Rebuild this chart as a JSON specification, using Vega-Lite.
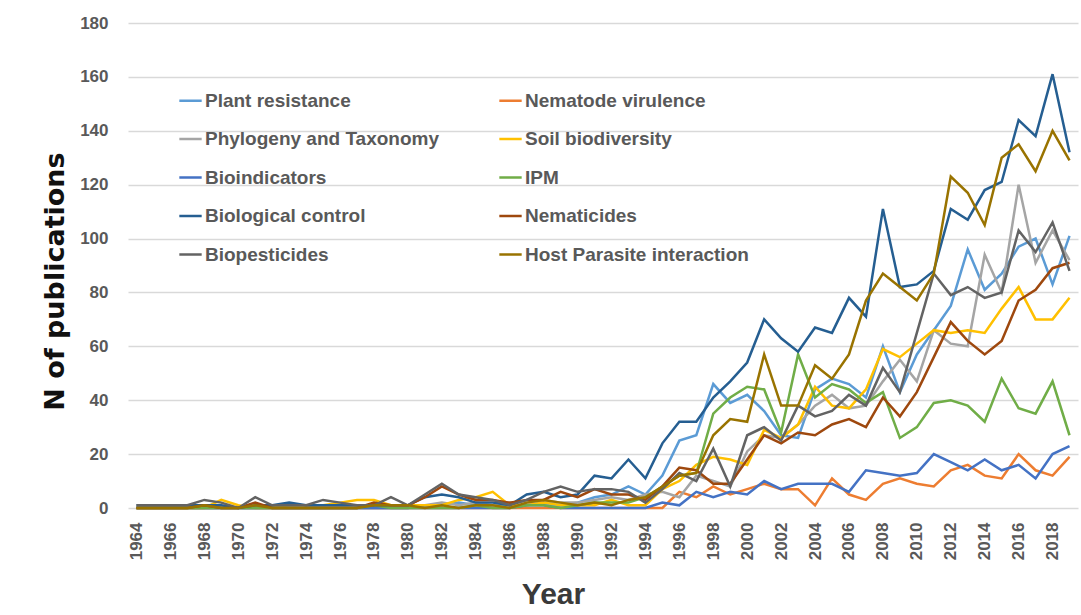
{
  "$schema": "https://vega.github.io/schema/vega-lite/v6.json",
  "autosize": "none",
  "width": 950,
  "height": 485,
  "padding": {"left": 128, "top": 23, "right": 3, "bottom": 107},
  "background": "white",
  "config": {"view": {"stroke": null}},
  "data": {"values": [
    {"year":1964,"Plant resistance":0,"Nematode virulence":0,"Phylogeny and Taxonomy":0,"Soil biodiversity":0,"Bioindicators":0,"IPM":0,"Biological control":1,"Nematicides":0,"Biopesticides":1,"Host Parasite interaction":0},
    {"year":1965,"Plant resistance":0,"Nematode virulence":0,"Phylogeny and Taxonomy":0,"Soil biodiversity":0,"Bioindicators":0,"IPM":0,"Biological control":1,"Nematicides":0,"Biopesticides":1,"Host Parasite interaction":0},
    {"year":1966,"Plant resistance":0,"Nematode virulence":0,"Phylogeny and Taxonomy":0,"Soil biodiversity":0,"Bioindicators":0,"IPM":0,"Biological control":1,"Nematicides":0,"Biopesticides":1,"Host Parasite interaction":0},
    {"year":1967,"Plant resistance":0,"Nematode virulence":0,"Phylogeny and Taxonomy":0,"Soil biodiversity":0,"Bioindicators":0,"IPM":0,"Biological control":1,"Nematicides":0,"Biopesticides":1,"Host Parasite interaction":0},
    {"year":1968,"Plant resistance":0,"Nematode virulence":0,"Phylogeny and Taxonomy":0,"Soil biodiversity":0,"Bioindicators":0,"IPM":0,"Biological control":1,"Nematicides":1,"Biopesticides":3,"Host Parasite interaction":1},
    {"year":1969,"Plant resistance":0,"Nematode virulence":0,"Phylogeny and Taxonomy":0,"Soil biodiversity":3,"Bioindicators":0,"IPM":0,"Biological control":1,"Nematicides":0,"Biopesticides":2,"Host Parasite interaction":0},
    {"year":1970,"Plant resistance":0,"Nematode virulence":0,"Phylogeny and Taxonomy":0,"Soil biodiversity":1,"Bioindicators":0,"IPM":0,"Biological control":0,"Nematicides":0,"Biopesticides":0,"Host Parasite interaction":0},
    {"year":1971,"Plant resistance":0,"Nematode virulence":0,"Phylogeny and Taxonomy":0,"Soil biodiversity":0,"Bioindicators":0,"IPM":0,"Biological control":1,"Nematicides":2,"Biopesticides":4,"Host Parasite interaction":1},
    {"year":1972,"Plant resistance":0,"Nematode virulence":0,"Phylogeny and Taxonomy":0,"Soil biodiversity":0,"Bioindicators":0,"IPM":0,"Biological control":1,"Nematicides":0,"Biopesticides":1,"Host Parasite interaction":0},
    {"year":1973,"Plant resistance":0,"Nematode virulence":0,"Phylogeny and Taxonomy":0,"Soil biodiversity":1,"Bioindicators":0,"IPM":0,"Biological control":2,"Nematicides":0,"Biopesticides":1,"Host Parasite interaction":0},
    {"year":1974,"Plant resistance":0,"Nematode virulence":0,"Phylogeny and Taxonomy":0,"Soil biodiversity":1,"Bioindicators":0,"IPM":0,"Biological control":1,"Nematicides":0,"Biopesticides":1,"Host Parasite interaction":0},
    {"year":1975,"Plant resistance":0,"Nematode virulence":0,"Phylogeny and Taxonomy":0,"Soil biodiversity":1,"Bioindicators":0,"IPM":0,"Biological control":1,"Nematicides":0,"Biopesticides":3,"Host Parasite interaction":0},
    {"year":1976,"Plant resistance":0,"Nematode virulence":0,"Phylogeny and Taxonomy":0,"Soil biodiversity":2,"Bioindicators":0,"IPM":0,"Biological control":1,"Nematicides":0,"Biopesticides":2,"Host Parasite interaction":0},
    {"year":1977,"Plant resistance":0,"Nematode virulence":0,"Phylogeny and Taxonomy":0,"Soil biodiversity":3,"Bioindicators":0,"IPM":0,"Biological control":1,"Nematicides":0,"Biopesticides":1,"Host Parasite interaction":0},
    {"year":1978,"Plant resistance":0,"Nematode virulence":0,"Phylogeny and Taxonomy":0,"Soil biodiversity":3,"Bioindicators":0,"IPM":1,"Biological control":1,"Nematicides":2,"Biopesticides":1,"Host Parasite interaction":1},
    {"year":1979,"Plant resistance":0,"Nematode virulence":0,"Phylogeny and Taxonomy":0,"Soil biodiversity":1,"Bioindicators":0,"IPM":0,"Biological control":1,"Nematicides":1,"Biopesticides":4,"Host Parasite interaction":1},
    {"year":1980,"Plant resistance":0,"Nematode virulence":0,"Phylogeny and Taxonomy":0,"Soil biodiversity":1,"Bioindicators":0,"IPM":0,"Biological control":1,"Nematicides":1,"Biopesticides":1,"Host Parasite interaction":1},
    {"year":1981,"Plant resistance":1,"Nematode virulence":0,"Phylogeny and Taxonomy":1,"Soil biodiversity":1,"Bioindicators":0,"IPM":0,"Biological control":4,"Nematicides":4,"Biopesticides":5,"Host Parasite interaction":0},
    {"year":1982,"Plant resistance":1,"Nematode virulence":0,"Phylogeny and Taxonomy":2,"Soil biodiversity":1,"Bioindicators":0,"IPM":0,"Biological control":5,"Nematicides":8,"Biopesticides":9,"Host Parasite interaction":1},
    {"year":1983,"Plant resistance":2,"Nematode virulence":0,"Phylogeny and Taxonomy":1,"Soil biodiversity":3,"Bioindicators":0,"IPM":0,"Biological control":4,"Nematicides":5,"Biopesticides":5,"Host Parasite interaction":0},
    {"year":1984,"Plant resistance":1,"Nematode virulence":0,"Phylogeny and Taxonomy":2,"Soil biodiversity":4,"Bioindicators":0,"IPM":1,"Biological control":2,"Nematicides":3,"Biopesticides":4,"Host Parasite interaction":1},
    {"year":1985,"Plant resistance":1,"Nematode virulence":0,"Phylogeny and Taxonomy":1,"Soil biodiversity":6,"Bioindicators":0,"IPM":0,"Biological control":2,"Nematicides":3,"Biopesticides":3,"Host Parasite interaction":1},
    {"year":1986,"Plant resistance":1,"Nematode virulence":0,"Phylogeny and Taxonomy":2,"Soil biodiversity":1,"Bioindicators":0,"IPM":0,"Biological control":1,"Nematicides":2,"Biopesticides":1,"Host Parasite interaction":0},
    {"year":1987,"Plant resistance":1,"Nematode virulence":0,"Phylogeny and Taxonomy":2,"Soil biodiversity":1,"Bioindicators":1,"IPM":1,"Biological control":5,"Nematicides":3,"Biopesticides":3,"Host Parasite interaction":2},
    {"year":1988,"Plant resistance":2,"Nematode virulence":0,"Phylogeny and Taxonomy":3,"Soil biodiversity":2,"Bioindicators":1,"IPM":1,"Biological control":6,"Nematicides":3,"Biopesticides":6,"Host Parasite interaction":3},
    {"year":1989,"Plant resistance":1,"Nematode virulence":0,"Phylogeny and Taxonomy":2,"Soil biodiversity":1,"Bioindicators":0,"IPM":0,"Biological control":4,"Nematicides":6,"Biopesticides":8,"Host Parasite interaction":2},
    {"year":1990,"Plant resistance":2,"Nematode virulence":0,"Phylogeny and Taxonomy":2,"Soil biodiversity":1,"Bioindicators":0,"IPM":1,"Biological control":5,"Nematicides":4,"Biopesticides":6,"Host Parasite interaction":1},
    {"year":1991,"Plant resistance":4,"Nematode virulence":0,"Phylogeny and Taxonomy":3,"Soil biodiversity":1,"Bioindicators":0,"IPM":2,"Biological control":12,"Nematicides":7,"Biopesticides":7,"Host Parasite interaction":2},
    {"year":1992,"Plant resistance":5,"Nematode virulence":0,"Phylogeny and Taxonomy":4,"Soil biodiversity":3,"Bioindicators":0,"IPM":2,"Biological control":11,"Nematicides":5,"Biopesticides":7,"Host Parasite interaction":1},
    {"year":1993,"Plant resistance":8,"Nematode virulence":0,"Phylogeny and Taxonomy":3,"Soil biodiversity":1,"Bioindicators":0,"IPM":2,"Biological control":18,"Nematicides":5,"Biopesticides":6,"Host Parasite interaction":3},
    {"year":1994,"Plant resistance":5,"Nematode virulence":0,"Phylogeny and Taxonomy":5,"Soil biodiversity":1,"Bioindicators":0,"IPM":4,"Biological control":11,"Nematicides":3,"Biopesticides":2,"Host Parasite interaction":4},
    {"year":1995,"Plant resistance":12,"Nematode virulence":0,"Phylogeny and Taxonomy":6,"Soil biodiversity":7,"Bioindicators":2,"IPM":8,"Biological control":24,"Nematicides":8,"Biopesticides":7,"Host Parasite interaction":8},
    {"year":1996,"Plant resistance":25,"Nematode virulence":6,"Phylogeny and Taxonomy":4,"Soil biodiversity":10,"Bioindicators":1,"IPM":12,"Biological control":32,"Nematicides":15,"Biopesticides":13,"Host Parasite interaction":12},
    {"year":1997,"Plant resistance":27,"Nematode virulence":4,"Phylogeny and Taxonomy":12,"Soil biodiversity":16,"Bioindicators":6,"IPM":13,"Biological control":32,"Nematicides":14,"Biopesticides":10,"Host Parasite interaction":13},
    {"year":1998,"Plant resistance":46,"Nematode virulence":8,"Phylogeny and Taxonomy":10,"Soil biodiversity":19,"Bioindicators":4,"IPM":35,"Biological control":41,"Nematicides":9,"Biopesticides":22,"Host Parasite interaction":27},
    {"year":1999,"Plant resistance":39,"Nematode virulence":5,"Phylogeny and Taxonomy":8,"Soil biodiversity":18,"Bioindicators":6,"IPM":41,"Biological control":47,"Nematicides":9,"Biopesticides":8,"Host Parasite interaction":33},
    {"year":2000,"Plant resistance":42,"Nematode virulence":7,"Phylogeny and Taxonomy":21,"Soil biodiversity":16,"Bioindicators":5,"IPM":45,"Biological control":54,"Nematicides":18,"Biopesticides":27,"Host Parasite interaction":32},
    {"year":2001,"Plant resistance":36,"Nematode virulence":9,"Phylogeny and Taxonomy":27,"Soil biodiversity":29,"Bioindicators":10,"IPM":44,"Biological control":70,"Nematicides":27,"Biopesticides":30,"Host Parasite interaction":57},
    {"year":2002,"Plant resistance":27,"Nematode virulence":7,"Phylogeny and Taxonomy":26,"Soil biodiversity":26,"Bioindicators":7,"IPM":28,"Biological control":63,"Nematicides":24,"Biopesticides":25,"Host Parasite interaction":38},
    {"year":2003,"Plant resistance":26,"Nematode virulence":7,"Phylogeny and Taxonomy":31,"Soil biodiversity":31,"Bioindicators":9,"IPM":57,"Biological control":58,"Nematicides":28,"Biopesticides":38,"Host Parasite interaction":38},
    {"year":2004,"Plant resistance":44,"Nematode virulence":1,"Phylogeny and Taxonomy":38,"Soil biodiversity":45,"Bioindicators":9,"IPM":41,"Biological control":67,"Nematicides":27,"Biopesticides":34,"Host Parasite interaction":53},
    {"year":2005,"Plant resistance":48,"Nematode virulence":11,"Phylogeny and Taxonomy":42,"Soil biodiversity":38,"Bioindicators":9,"IPM":46,"Biological control":65,"Nematicides":31,"Biopesticides":36,"Host Parasite interaction":48},
    {"year":2006,"Plant resistance":46,"Nematode virulence":5,"Phylogeny and Taxonomy":37,"Soil biodiversity":37,"Bioindicators":6,"IPM":44,"Biological control":78,"Nematicides":33,"Biopesticides":42,"Host Parasite interaction":57},
    {"year":2007,"Plant resistance":41,"Nematode virulence":3,"Phylogeny and Taxonomy":38,"Soil biodiversity":44,"Bioindicators":14,"IPM":39,"Biological control":71,"Nematicides":30,"Biopesticides":38,"Host Parasite interaction":77},
    {"year":2008,"Plant resistance":60,"Nematode virulence":9,"Phylogeny and Taxonomy":47,"Soil biodiversity":59,"Bioindicators":13,"IPM":43,"Biological control":111,"Nematicides":41,"Biopesticides":52,"Host Parasite interaction":87},
    {"year":2009,"Plant resistance":43,"Nematode virulence":11,"Phylogeny and Taxonomy":55,"Soil biodiversity":56,"Bioindicators":12,"IPM":26,"Biological control":82,"Nematicides":34,"Biopesticides":43,"Host Parasite interaction":82},
    {"year":2010,"Plant resistance":57,"Nematode virulence":9,"Phylogeny and Taxonomy":47,"Soil biodiversity":61,"Bioindicators":13,"IPM":30,"Biological control":83,"Nematicides":43,"Biopesticides":65,"Host Parasite interaction":77},
    {"year":2011,"Plant resistance":66,"Nematode virulence":8,"Phylogeny and Taxonomy":66,"Soil biodiversity":66,"Bioindicators":20,"IPM":39,"Biological control":88,"Nematicides":56,"Biopesticides":87,"Host Parasite interaction":87},
    {"year":2012,"Plant resistance":75,"Nematode virulence":14,"Phylogeny and Taxonomy":61,"Soil biodiversity":65,"Bioindicators":17,"IPM":40,"Biological control":111,"Nematicides":69,"Biopesticides":79,"Host Parasite interaction":123},
    {"year":2013,"Plant resistance":96,"Nematode virulence":16,"Phylogeny and Taxonomy":60,"Soil biodiversity":66,"Bioindicators":14,"IPM":38,"Biological control":107,"Nematicides":62,"Biopesticides":82,"Host Parasite interaction":117},
    {"year":2014,"Plant resistance":81,"Nematode virulence":12,"Phylogeny and Taxonomy":94,"Soil biodiversity":65,"Bioindicators":18,"IPM":32,"Biological control":118,"Nematicides":57,"Biopesticides":78,"Host Parasite interaction":105},
    {"year":2015,"Plant resistance":87,"Nematode virulence":11,"Phylogeny and Taxonomy":80,"Soil biodiversity":74,"Bioindicators":14,"IPM":48,"Biological control":121,"Nematicides":62,"Biopesticides":80,"Host Parasite interaction":130},
    {"year":2016,"Plant resistance":97,"Nematode virulence":20,"Phylogeny and Taxonomy":120,"Soil biodiversity":82,"Bioindicators":16,"IPM":37,"Biological control":144,"Nematicides":77,"Biopesticides":103,"Host Parasite interaction":135},
    {"year":2017,"Plant resistance":100,"Nematode virulence":14,"Phylogeny and Taxonomy":91,"Soil biodiversity":70,"Bioindicators":11,"IPM":35,"Biological control":138,"Nematicides":81,"Biopesticides":95,"Host Parasite interaction":125},
    {"year":2018,"Plant resistance":83,"Nematode virulence":12,"Phylogeny and Taxonomy":103,"Soil biodiversity":70,"Bioindicators":20,"IPM":47,"Biological control":161,"Nematicides":89,"Biopesticides":106,"Host Parasite interaction":140},
    {"year":2019,"Plant resistance":101,"Nematode virulence":19,"Phylogeny and Taxonomy":92,"Soil biodiversity":78,"Bioindicators":23,"IPM":27,"Biological control":132,"Nematicides":91,"Biopesticides":88,"Host Parasite interaction":129}
  ]},
  "transform": [
    {"fold": ["Plant resistance","Nematode virulence","Phylogeny and Taxonomy","Soil biodiversity","Bioindicators","IPM","Biological control","Nematicides","Biopesticides","Host Parasite interaction"], "as": ["topic","n"]}
  ],
  "mark": {"type": "line", "strokeWidth": 2.5, "strokeJoin": "miter"},
  "encoding": {
    "x": {
      "field": "year", "type": "quantitative",
      "scale": {"domain": [1963.5, 2019.5], "nice": false, "zero": false},
      "axis": {
        "values": [1964,1966,1968,1970,1972,1974,1976,1978,1980,1982,1984,1986,1988,1990,1992,1994,1996,1998,2000,2002,2004,2006,2008,2010,2012,2014,2016,2018],
        "format": "d", "labelAngle": 270, "labelAlign": "right", "labelBaseline": "middle",
        "labelFont": "Liberation Sans", "labelFontSize": 17, "labelFontWeight": "bold", "labelColor": "#595959",
        "labelPadding": 14, "ticks": false, "domain": false, "grid": false,
        "title": "Year", "titleFont": "Liberation Sans", "titleFontSize": 30, "titleFontWeight": "bold", "titleColor": "#3a3a3a",
        "titleX": 425, "titleY": 86, "titleAlign": "center", "titleBaseline": "middle"
      }
    },
    "y": {
      "field": "n", "type": "quantitative",
      "scale": {"domain": [0, 180], "nice": false},
      "axis": {
        "values": [0,20,40,60,80,100,120,140,160,180],
        "labelFont": "Liberation Sans", "labelFontSize": 17, "labelFontWeight": "bold", "labelColor": "#595959",
        "labelPadding": 20, "ticks": false, "domain": false,
        "grid": true, "gridColor": "#D9D9D9", "gridWidth": 1.3,
        "title": "N of publications", "titleFont": "DejaVu Sans", "titleFontSize": 27, "titleFontWeight": "bold", "titleColor": "#111111",
        "titleAngle": 270, "titleX": -73, "titleY": 258, "titleAlign": "center", "titleBaseline": "middle"
      }
    },
    "color": {
      "field": "topic", "type": "nominal",
      "scale": {
        "domain": ["Plant resistance","Phylogeny and Taxonomy","Bioindicators","Biological control","Biopesticides","Nematode virulence","Soil biodiversity","IPM","Nematicides","Host Parasite interaction"],
        "range": ["#5B9BD5","#A5A5A5","#4472C4","#255E91","#636363","#ED7D31","#FFC000","#70AD47","#9E480E","#997300"]
      },
      "legend": {
        "orient": "none", "legendX": 50, "legendY": 65, "columns": 2, "title": null,
        "symbolType": "stroke", "symbolSize": 500, "symbolStrokeWidth": 2.5,
        "labelFont": "Liberation Sans", "labelFontSize": 19, "labelFontWeight": "bold", "labelColor": "#595959",
        "labelOffset": 2, "rowPadding": 15.5, "columnPadding": 54, "labelLimit": 400
      }
    }
  }
}
